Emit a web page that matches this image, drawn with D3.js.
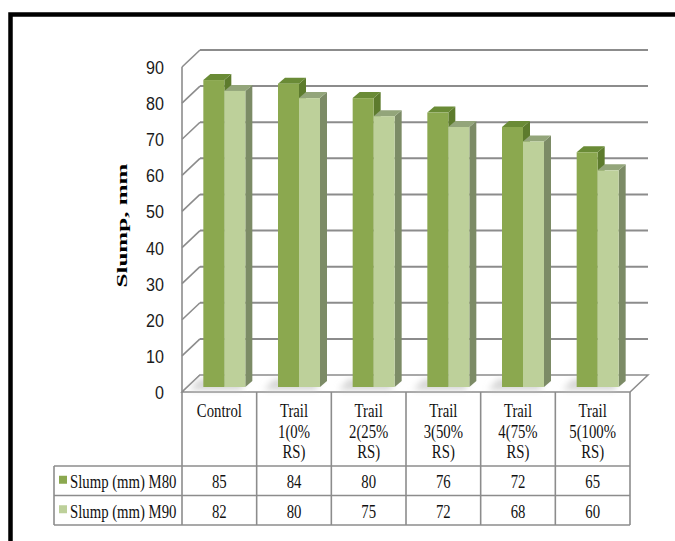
<!DOCTYPE html>
<html>
<head>
<meta charset="utf-8">
<script src="https://cdn.jsdelivr.net/npm/d3@7"></script>
<style>
  html, body { margin: 0; padding: 0; background: #ffffff; }
  svg { display: block; }
</style>
</head>
<body>
<svg id="chart" width="675" height="541"></svg>
<script>
// Slump test results for the six mixes
const categories = ["Control", "Trail 1(0% RS)", "Trail 2(25% RS)", "Trail 3(50% RS)", "Trail 4(75% RS)", "Trail 5(100% RS)"];
const seriesNames = ["Slump (mm) M80", "Slump (mm) M90"];
const slumpM80 = [85, 84, 80, 76, 72, 65];
const slumpM90 = [82, 80, 75, 72, 68, 60];
const yTicks = [0, 10, 20, 30, 40, 50, 60, 70, 80, 90];
const axisTitle = "Slump, mm";

const seriesValues = [slumpM80, slumpM90];
const palette = [
  { front: "#8ba84f", top: "#6a8b36", side: "#5d7b2d" },
  { front: "#bdd09a", top: "#93a57a", side: "#7c8b66" }
];

const svg = d3.select("#chart");
const gridColor = "#8c8c8c";

// plot box: front plane, back wall offset and bar plane offset (oblique 3-D)
const left = 182, right = 630;
const depth = { dx: 18, dy: -17 };
const barPlane = { dx: 5, dy: -5 };
const barDepth = { dx: 7, dy: -6 };

const y = d3.scaleLinear().domain([0, 90]).range([392, 67]);
const x = d3.scaleBand().domain(categories).range([left, right])
  .paddingInner(0.4375).paddingOuter(0.21875);
const xs = d3.scaleBand().domain(seriesNames).range([0, x.bandwidth()]);

// outer frame
svg.append("path")
  .attr("d", `M10.5,541 L10.5,14.5 L675,14.5`)
  .attr("fill", "none").attr("stroke", "#000").attr("stroke-width", 4.5);

// back wall gridlines and side wall diagonals
const grid = svg.append("g");
yTicks.forEach(v => {
  const yf = y(v), yb = y(v) + depth.dy;
  if (v > 0) {
    grid.append("line")
      .attr("x1", left + depth.dx).attr("x2", right + depth.dx)
      .attr("y1", yb).attr("y2", yb)
      .attr("stroke", gridColor).attr("stroke-width", 2);
  }
  grid.append("line")
    .attr("x1", left).attr("y1", yf)
    .attr("x2", left + depth.dx).attr("y2", yb)
    .attr("stroke", gridColor).attr("stroke-width", 1.6);
});

// floor
const y0 = y(0);
svg.append("polygon")
  .attr("points", [[left, y0], [left + depth.dx, y0 + depth.dy], [right + depth.dx, y0 + depth.dy], [right, y0]].map(p => p.join(",")).join(" "))
  .attr("fill", "#ffffff").attr("stroke", gridColor).attr("stroke-width", 1.5);

// soft shadows cast on the floor
const defs = svg.append("defs");
defs.append("filter").attr("id", "soft").attr("x", "-50%").attr("y", "-50%").attr("width", "200%").attr("height", "200%")
  .append("feGaussianBlur").attr("stdDeviation", 3);
const shadowG = svg.append("g").attr("filter", "url(#soft)");
categories.forEach(c => {
  const bx = x(c) + barPlane.dx, by = y0 + barPlane.dy;
  const w = x.bandwidth();
  shadowG.append("polygon")
    .attr("points", [[bx - 14, by + 3], [bx - 4, by - 8], [bx + w, by - 8], [bx + w - 4, by + 3]].map(p => p.join(",")).join(" "))
    .attr("fill", "#c8c8c8").attr("opacity", 0.75);
});

// front vertical edge of the side wall, continuing down as the table border
svg.append("line")
  .attr("x1", left).attr("x2", left)
  .attr("y1", y(90)).attr("y2", 525)
  .attr("stroke", gridColor).attr("stroke-width", 1.6);

// bars: side face, top face, then front face
const barsG = svg.append("g");
categories.forEach((c, i) => {
  seriesNames.forEach((s, si) => {
    const v = seriesValues[si][i];
    const col = palette[si];
    const bx = x(c) + xs(s) + barPlane.dx;
    const w = xs.bandwidth();
    const base = y(0) + barPlane.dy;
    const top = y(v) + barPlane.dy;
    const g = barsG.append("g");
    g.append("polygon")
      .attr("points", [[bx + w, top], [bx + w + barDepth.dx, top + barDepth.dy], [bx + w + barDepth.dx, base + barDepth.dy], [bx + w, base]].map(p => p.join(",")).join(" "))
      .attr("fill", col.side);
    g.append("polygon")
      .attr("points", [[bx, top], [bx + barDepth.dx, top + barDepth.dy], [bx + w + barDepth.dx, top + barDepth.dy], [bx + w, top]].map(p => p.join(",")).join(" "))
      .attr("fill", col.top);
    g.append("rect")
      .attr("x", bx).attr("y", top)
      .attr("width", w).attr("height", base - top)
      .attr("fill", col.front);
  });
});

// helper for horizontally condensed text
function ctext(parent, tx, ty, str, opts) {
  const o = Object.assign({ size: 18, family: "'Liberation Serif', 'Times New Roman', serif", anchor: "middle", sx: 0.82, weight: "normal", fill: "#111" }, opts || {});
  return parent.append("text")
    .attr("transform", `translate(${tx},${ty}) scale(${o.sx},1)`)
    .attr("text-anchor", o.anchor)
    .attr("font-family", o.family)
    .attr("font-size", o.size)
    .attr("font-weight", o.weight)
    .attr("fill", o.fill)
    .text(str);
}

// y tick labels
const tickG = svg.append("g");
yTicks.forEach(v => {
  ctext(tickG, 164, y(v) + 7, String(v), { family: "'Liberation Sans', Arial, sans-serif", size: 18.5, anchor: "end", sx: 0.87, fill: "#1a1a1a" });
});

// y axis title
svg.append("text")
  .attr("transform", `translate(127,225.5) rotate(-90)`)
  .attr("text-anchor", "middle")
  .attr("font-family", "'Liberation Serif', 'Times New Roman', serif")
  .attr("font-weight", "bold")
  .attr("font-size", 15)
  .attr("textLength", 124)
  .attr("lengthAdjust", "spacingAndGlyphs")
  .attr("fill", "#000")
  .text(axisTitle);

// data table
const table = svg.append("g");
const rowTop = 466, rowMid = 495.5, rowBot = 525, legendLeft = 54;
const step = x.step();
const colEdge = i => left + i * step;
for (let i = 1; i <= categories.length; i++) {
  table.append("line")
    .attr("x1", colEdge(i)).attr("x2", colEdge(i))
    .attr("y1", y0).attr("y2", rowBot)
    .attr("stroke", gridColor).attr("stroke-width", 1.6);
}
[rowTop, rowMid, rowBot].forEach(ry => {
  table.append("line")
    .attr("x1", legendLeft).attr("x2", right)
    .attr("y1", ry).attr("y2", ry)
    .attr("stroke", gridColor).attr("stroke-width", 1.6);
});
table.append("line")
  .attr("x1", legendLeft).attr("x2", legendLeft)
  .attr("y1", rowTop).attr("y2", rowBot)
  .attr("stroke", gridColor).attr("stroke-width", 1.6);

// category headers, wrapped on spaces
categories.forEach((c, i) => {
  const cx = colEdge(i) + step / 2;
  c.split(" ").forEach((line, li) => {
    ctext(table, cx, 417 + li * 20.7, line);
  });
});

// series rows: legend key, name and values
const rowCenters = [(rowTop + rowMid) / 2, (rowMid + rowBot) / 2];
seriesNames.forEach((s, si) => {
  const cy = rowCenters[si];
  table.append("rect")
    .attr("x", 59).attr("y", cy - 5)
    .attr("width", 8).attr("height", 8)
    .attr("fill", palette[si].front);
  ctext(table, 70, cy + 7.5, s, { anchor: "start" });
  seriesValues[si].forEach((v, i) => {
    ctext(table, colEdge(i) + step / 2, cy + 7.5, String(v));
  });
});
</script>
</body>
</html>
